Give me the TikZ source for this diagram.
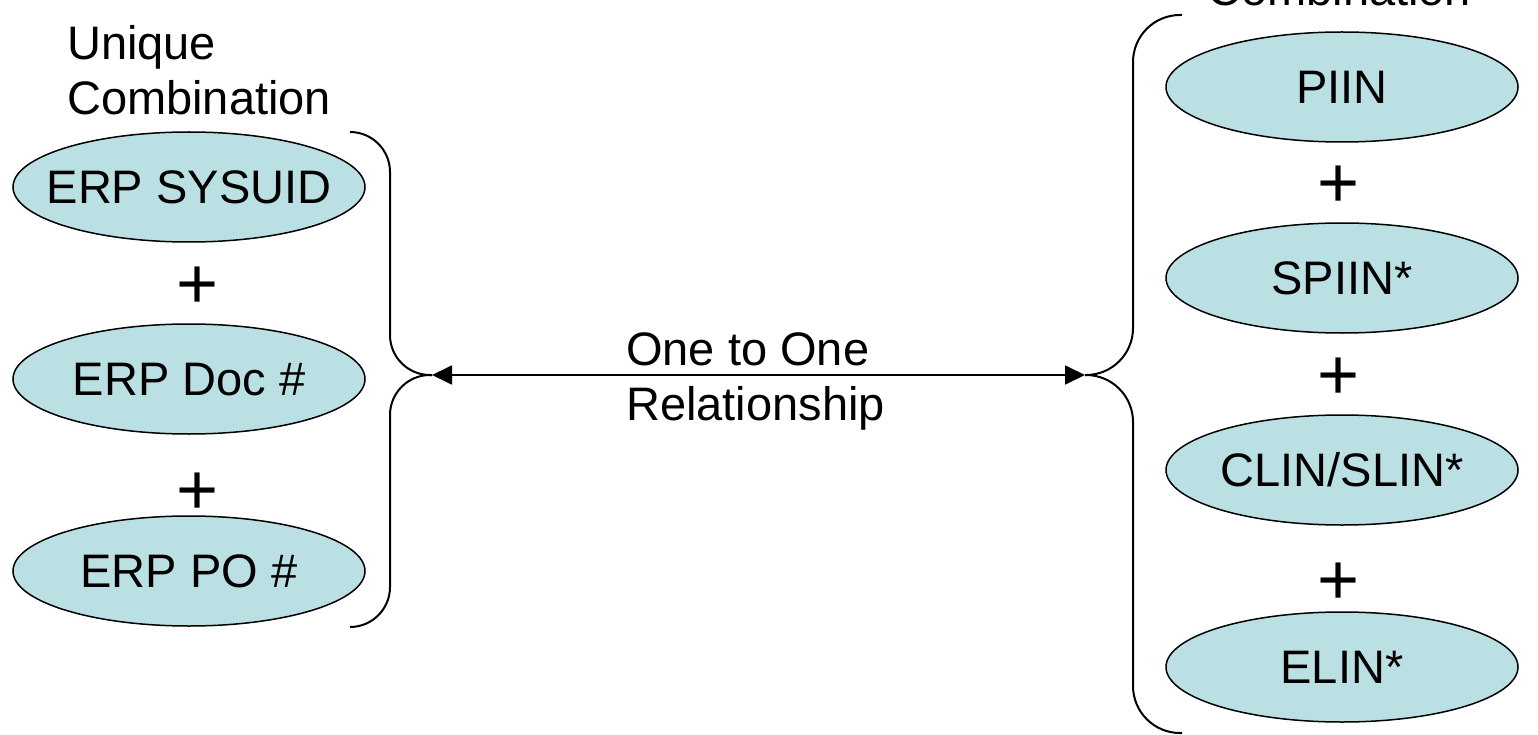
\documentclass[tikz,border=0pt]{standalone}
\usepackage{fontspec}
\setmainfont{Liberation Sans}
\usetikzlibrary{shapes.geometric,arrows.meta}
\definecolor{ovalfill}{RGB}{186,224,227}
\tikzset{
  oval/.style={ellipse, draw=black, line width=1.5pt, fill=ovalfill, minimum width=352pt, minimum height=110pt, inner sep=0pt, text height=33pt, text depth=0pt, font=\fontsize{47}{55}\selectfont},
  plussign/.style={anchor=base, inner sep=0pt, font=\fontsize{72}{80}\selectfont},
  lbl/.style={inner sep=0pt, align=left, font=\fontsize{47}{55}\selectfont},
  brace/.style={draw=black, line width=2pt},
  rel/.style={draw=black, line width=1.8pt, {Triangle[length=20pt,width=19pt]}-{Triangle[length=20pt,width=19pt]}}
}
\newcommand{\oz}[1]{\makebox[0pt]{#1}}
\begin{document}
\begin{tikzpicture}[x=1pt,y=-1pt]
\useasboundingbox (0,0) rectangle (1538,735);
% left column
\node[lbl, anchor=base west] (ltitle) at (67,115) {Unique\\Combination};
\node[oval] (sysuid) at (189,187) {\oz{ERP SYSUID}};
\node[plussign] (lp1) at (198,308) {+};
\node[oval] (doc) at (189,379) {\oz{ERP Doc \#}};
\node[plussign] (lp2) at (198,514) {+};
\node[oval] (po) at (189,571) {\oz{ERP PO \#}};
% right column
\node[lbl, anchor=base west] (rtitle) at (1207,6) {Combination};
\node[oval] (piin) at (1342,87) {\oz{PIIN}};
\node[plussign] (rp1) at (1339,208) {+};
\node[oval] (spiin) at (1342,278) {\oz{SPIIN*}};
\node[plussign] (rp2) at (1339,399) {+};
\node[oval] (clin) at (1342,470) {\oz{CLIN/SLIN*}};
\node[plussign] (rp3) at (1339,604) {+};
\node[oval] (elin) at (1342,667) {\oz{ELIN*}};
% braces
\coordinate (lc) at (432,375);
\coordinate (rc) at (1085,375);
\draw[brace, rounded corners=40pt] (350,132) -- (390,132) -- (390,375) -- (lc);
\draw[brace, rounded corners=40pt] (lc) -- (390,375) -- (390,627) -- (350,627);
\draw[brace, rounded corners=47pt] (rc) -- (1133,375) -- (1133,15) -- (1182,15);
\draw[brace, rounded corners=47pt] (rc) -- (1133,375) -- (1133,733) -- (1182,733);
% relationship
\draw[rel] (lc) -- (rc);
\node[lbl, anchor=base west] (reltext) at (626,420) {One to One\\Relationship};
\end{tikzpicture}
\end{document}
